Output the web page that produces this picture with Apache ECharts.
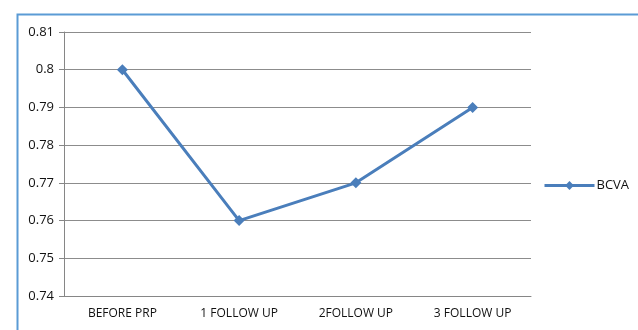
<!DOCTYPE html>
<html><head><meta charset="utf-8">
<script src="https://cdn.jsdelivr.net/npm/echarts@6/dist/echarts.min.js"></script>
<style>html,body{margin:0;padding:0;background:#fff}#c{width:638px;height:330px}</style>
</head><body><div id="c"></div>
<script>
const categories = ['BEFORE PRP', '1 FOLLOW UP', '2FOLLOW UP', '3 FOLLOW UP'];
const bcva = [0.80, 0.76, 0.77, 0.79];
const seriesName = 'BCVA';

const chart = echarts.init(document.getElementById('c'), null, {renderer: 'canvas'});
chart.setOption({
  animation: false,
  textStyle: {fontFamily: 'Open Sans, Liberation Sans, sans-serif'},
  graphic: [{
    type: 'rect', left: 15, top: 12, shape: {width: 700, height: 400},
    style: {fill: 'none', stroke: '#5b9bd5', lineWidth: 2}, silent: true
  }],
  grid: {left: 64, right: 107, top: 32, bottom: 34},
  legend: {
    left: 538, top: 174, itemWidth: 50, itemHeight: 11, itemGap: 4,
    lineStyle: {width: 3, color: '#4a7ebb'},
    itemStyle: {color: '#4a7ebb'},
    textStyle: {fontSize: 13, color: '#111', fontFamily: 'Open Sans, sans-serif', padding: [0,0,0,-3]},
    data: [seriesName]
  },
  xAxis: {
    type: 'category', data: categories, boundaryGap: true,
    axisLine: {lineStyle: {color: '#868686', width: 1}},
    axisTick: {length: 5, lineStyle: {color: '#868686'}},
    axisLabel: {fontSize: 12, color: '#111', margin: 12}
  },
  yAxis: {
    type: 'value', min: 0.74, max: 0.81, interval: 0.01,
    axisLine: {show: true, lineStyle: {color: '#868686', width: 1}},
    axisTick: {show: true, length: 5, lineStyle: {color: '#868686'}},
    splitLine: {lineStyle: {color: '#8c8c8c', width: 1}},
    axisLabel: {fontSize: 13, color: '#111', margin: 10,
      formatter: v => String(parseFloat(v.toFixed(2)))}
  },
  series: [{
    name: seriesName, type: 'line', data: bcva,
    symbol: 'diamond', symbolSize: 11,
    lineStyle: {color: '#4a7ebb', width: 3},
    itemStyle: {color: '#4a7ebb'}
  }]
});
</script></body></html>
